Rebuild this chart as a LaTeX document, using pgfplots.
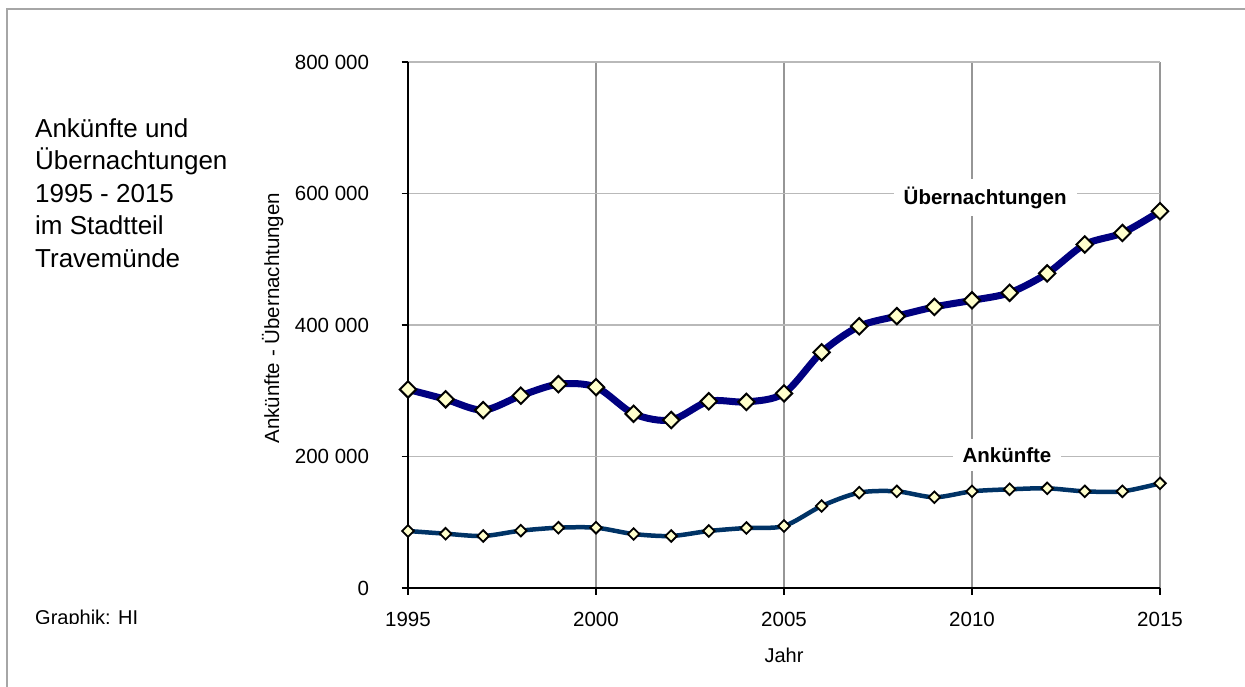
\documentclass[border=0pt]{standalone}
\usepackage{pgfplots}
\pgfplotsset{compat=1.18}
\usepackage{fontspec}
\setmainfont{Liberation Sans}
\definecolor{uebline}{RGB}{0,0,128}
\definecolor{ankline}{RGB}{0,51,102}
\definecolor{mfill}{RGB}{255,255,204}
\definecolor{vgrid}{RGB}{150,150,150}
\definecolor{hgrid}{RGB}{185,185,185}
\pgfplotstableread{
year uebern
1995 302000
1996 287000
1997 270500
1998 292500
1999 310000
2000 305500
2001 265000
2002 255500
2003 284000
2004 283000
2005 296000
2006 358500
2007 398000
2008 413500
2009 427500
2010 437500
2011 449000
2012 478500
2013 522500
2014 540000
2015 573000
}\uebtable
\pgfplotstableread{
year ankuenfte
1995 86700
1996 82600
1997 79100
1998 87200
1999 91700
2000 91700
2001 82100
2002 79100
2003 86700
2004 91300
2005 94300
2006 124700
2007 145000
2008 147000
2009 138000
2010 147000
2011 150100
2012 151600
2013 147000
2014 147000
2015 159200
}\anktable
\begin{document}
\begin{tikzpicture}
\useasboundingbox (0pt,0pt) rectangle (1245pt,686pt);
\draw[gray!70, line width=1.5pt] (7pt,-10pt) -- (7pt,677pt) -- (1260pt,677pt);
\begin{scope}[font=\fontsize{26}{32}\selectfont]
\node[anchor=base west,inner sep=0] at (35pt,548.7pt) {Ankünfte und};
\node[anchor=base west,inner sep=0] at (35pt,516.2pt) {Übernachtungen};
\node[anchor=base west,inner sep=0] at (35pt,483.7pt) {1995 - 2015};
\node[anchor=base west,inner sep=0] at (35pt,451.2pt) {im Stadtteil};
\node[anchor=base west,inner sep=0] at (35pt,418.7pt) {Travemünde};
\end{scope}
\begin{scope}
\clip (0pt,63pt) rectangle (400pt,686pt);
\node[anchor=base west,inner sep=0,font=\fontsize{20}{24}\selectfont] at (35pt,61.5pt) {Graphik: HI};
\end{scope}
\begin{axis}[
  at={(408pt,98pt)}, anchor=south west,
  scale only axis, width=752pt, height=526pt,
  xmin=1995, xmax=2015, ymin=0, ymax=800000,
  axis x line=bottom, axis y line=left,
  axis line style={-, black, line width=1.5pt},
  xtick={1995,2000,2005,2010,2015},
  xticklabels={1995,2000,2005,2010,2015},
  ytick={0,200000,400000,600000,800000},
  yticklabels={0,200 000,400 000,600 000,800 000},
  scaled y ticks=false,
  tick align=outside,
  major tick length=6.5pt,
  tick style={black, line width=1.3pt},
  font=\fontsize{20}{24}\selectfont,
  ticklabel style={font=\fontsize{20.5}{24}\selectfont},
  yticklabel style={xshift=-29pt},
  xticklabel style={yshift=-14pt},
  xmajorgrids, ymajorgrids,
  x grid style={vgrid, line width=2pt},
  y grid style={hgrid, line width=1.5pt},
  xlabel={Jahr},
  ylabel={Ankünfte - Übernachtungen},
  xlabel style={at={(axis description cs:0.5,-0.128)}, anchor=center},
  ylabel style={at={(axis description cs:-0.18,0.513)}, anchor=center, font=\fontsize{20.5}{24}\selectfont},
  clip=false,
]
\addplot[uebline, line width=7pt, smooth, tension=0.5, mark=square*,
  mark size=5.8pt, mark options={rotate=45, fill=mfill, draw=black, line width=2pt, solid}]
  table[x=year, y=uebern] {\uebtable};
\addplot[ankline, line width=4.5pt, smooth, tension=0.5, mark=square*,
  mark size=4.1pt, mark options={rotate=45, fill=mfill, draw=black, line width=1.8pt, solid}]
  table[x=year, y=ankuenfte] {\anktable};
\node[fill=white, inner xsep=10pt, inner ysep=8pt, font=\bfseries\fontsize{20.5}{24}\selectfont] at (axis cs:2010.35,594000) {Übernachtungen};
\node[fill=white, inner xsep=10pt, inner ysep=8pt, font=\bfseries\fontsize{20.5}{24}\selectfont] at (axis cs:2010.93,202300) {Ankünfte};
\end{axis}
\end{tikzpicture}
\end{document}
